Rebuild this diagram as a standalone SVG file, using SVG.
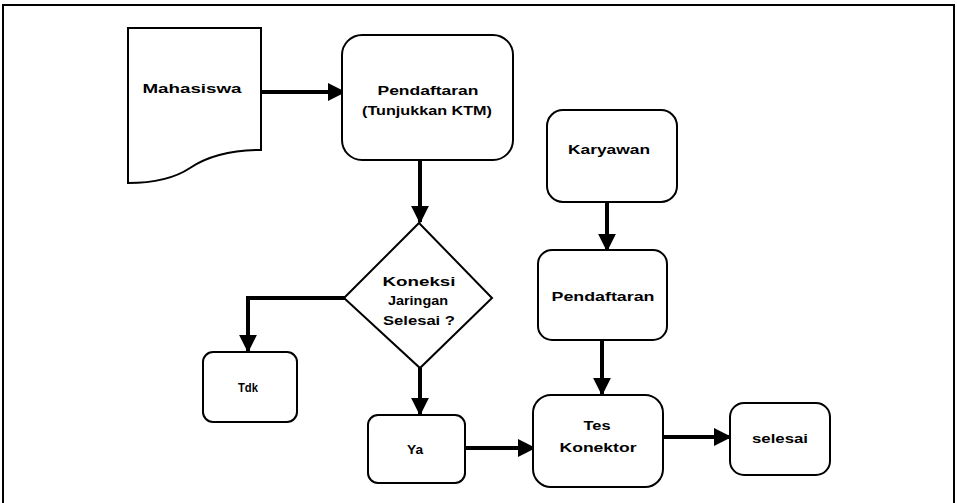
<svg xmlns="http://www.w3.org/2000/svg" width="957" height="503" viewBox="0 0 957 503">
<defs>
<style>
.box{fill:#fff;stroke:#000;stroke-width:2}
.t{font-family:"Liberation Sans",Arial,sans-serif;font-size:13px;font-weight:bold;fill:#000;text-anchor:middle;dominant-baseline:central}
.c{fill:none;stroke:#000;stroke-width:4}
</style>
<marker id="ah" viewBox="0 0 10 10" refX="9" refY="5" markerWidth="4.5" markerHeight="4.5" orient="auto" markerUnits="strokeWidth">
<path d="M0,0 L10,5 L0,10 Z" fill="#000"/>
</marker>
</defs>
<rect width="957" height="503" fill="#fff"/>
<path d="M3,510 V5 H954 V510" fill="none" stroke="#000" stroke-width="2"/>
<g id="connectors">
<path class="c" d="M262,92 H344" marker-end="url(#ah)"/>
<path class="c" d="M420,160 V222" marker-end="url(#ah)"/>
<path class="c" d="M345,298 H248 V351" marker-end="url(#ah)"/>
<path class="c" d="M420,368 V414" marker-end="url(#ah)"/>
<path class="c" d="M465,448 H534" marker-end="url(#ah)"/>
<path class="c" d="M663,437 H730" marker-end="url(#ah)"/>
<path class="c" d="M607,202 V250" marker-end="url(#ah)"/>
<path class="c" d="M602,340 V394" marker-end="url(#ah)"/>
</g>
<g id="mahasiswa">
<path class="box" d="M128,28 H261 V150 C225,150 205,158 190,168 C175,178 155,183 128,183 Z"/>
<text class="t" x="192" y="88" textLength="99" lengthAdjust="spacingAndGlyphs">Mahasiswa</text>
</g>
<g id="pendaftaran1">
<rect class="box" x="342" y="35" width="171" height="125" rx="20"/>
<text class="t" x="428" y="90" textLength="101" lengthAdjust="spacingAndGlyphs">Pendaftaran</text>
<text class="t" x="427" y="110" textLength="130" lengthAdjust="spacingAndGlyphs" font-weight="normal">(Tunjukkan KTM)</text>
</g>
<g id="kondisi">
<path class="box" d="M419,223 L492,298 L420,368 L344,298 Z"/>
<text class="t" x="419" y="281" textLength="73" lengthAdjust="spacingAndGlyphs">Koneksi</text>
<text class="t" x="418" y="300" textLength="60" lengthAdjust="spacingAndGlyphs" font-size="11">Jaringan</text>
<text class="t" x="419" y="320" textLength="72" lengthAdjust="spacingAndGlyphs">Selesai ?</text>
</g>
<g id="tidak">
<rect class="box" x="203" y="352" width="94" height="70" rx="10"/>
<text class="t" x="248" y="387" textLength="20" lengthAdjust="spacingAndGlyphs">Tdk</text>
</g>
<g id="ya">
<rect class="box" x="368" y="415" width="97" height="68" rx="10"/>
<text class="t" x="415" y="449" textLength="16" lengthAdjust="spacingAndGlyphs">Ya</text>
</g>
<g id="tes">
<rect class="box" x="533" y="395" width="130" height="92" rx="18"/>
<text class="t" x="597" y="425" textLength="27" lengthAdjust="spacingAndGlyphs" font-size="11">Tes</text>
<text class="t" x="598" y="447" textLength="77" lengthAdjust="spacingAndGlyphs" font-weight="normal">Konektor</text>
</g>
<g id="selesai">
<rect class="box" x="730" y="403" width="100" height="72" rx="14"/>
<text class="t" x="780" y="438" textLength="56" lengthAdjust="spacingAndGlyphs">selesai</text>
</g>
<g id="karyawan">
<rect class="box" x="547" y="110" width="130" height="92" rx="16"/>
<text class="t" x="609" y="149" textLength="82" lengthAdjust="spacingAndGlyphs">Karyawan</text>
</g>
<g id="pendaftaran2">
<rect class="box" x="538" y="250" width="129" height="90" rx="14"/>
<text class="t" x="603" y="296" textLength="103" lengthAdjust="spacingAndGlyphs">Pendaftaran</text>
</g>
</svg>
